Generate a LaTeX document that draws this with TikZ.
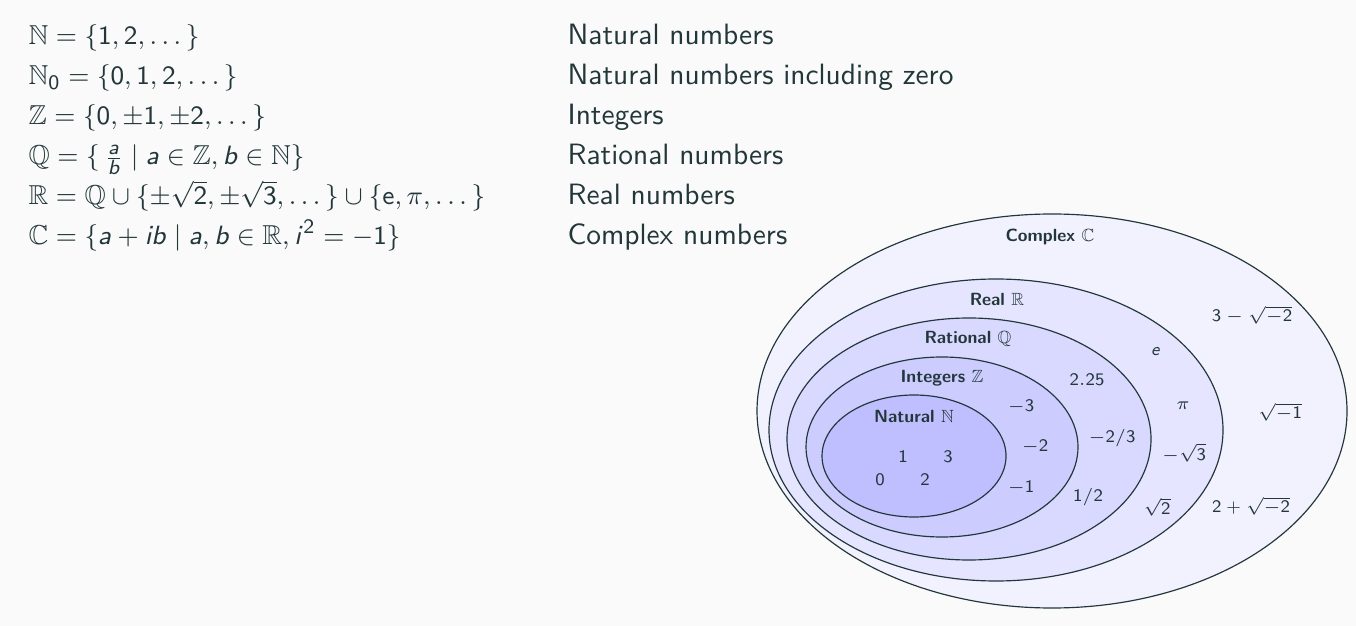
\documentclass[tikz,border=0pt]{standalone}
\usepackage{amsmath}
\usepackage{amssymb}
\usepackage{xcolor}
\definecolor{slidefg}{HTML}{23373B}
\definecolor{slidebg}{HTML}{FAFAFA}
\SetSymbolFont{operators}{normal}{OT1}{cmss}{m}{n}
\DeclareMathAlphabet{\mathsfit}{OT1}{cmss}{m}{sl}

\begin{document}
\begin{tikzpicture}
[x=0.34pt,y=-0.34pt,every node/.style={text=slidefg,font=\sffamily,inner sep=0pt},
setname/.style={font=\sffamily\bfseries\fontsize{6}{7}\selectfont},
elem/.style={font=\sffamily\fontsize{6}{7}\selectfont},
natelem/.style={font=\sffamily\fontsize{5.6}{6.5}\selectfont},
row/.style={anchor=base west},
mathrow/.style={anchor=base west,font=\fontsize{9.3}{11}\selectfont}]
\fill[slidebg] (0,0) rectangle (1356,626);
\useasboundingbox (0,0) rectangle (1356,626);
\node[mathrow] (d1) at (28,45) {$\mathbb{N} = \{1, 2, \dots\}$};
\node[mathrow] (d2) at (28,85) {$\mathbb{N}_0 = \{0, 1, 2, \dots\}$};
\node[mathrow] (d3) at (28,125) {$\mathbb{Z} = \{0, \pm 1, \pm 2, \dots\}$};
\node[mathrow] (d4) at (28,165) {$\mathbb{Q} = \{\,\frac{\mathsfit{a}}{\mathsfit{b}} \mid \mathsfit{a} \in \mathbb{Z}, \mathsfit{b} \in \mathbb{N}\}$};
\node[mathrow] (d5) at (28,205) {$\mathbb{R} = \mathbb{Q} \cup \{\pm\sqrt{2}, \pm\sqrt{3}, \dots\} \cup \{\mathrm{e}, \pi, \dots\}$};
\node[mathrow] (d6) at (28,245) {$\mathbb{C} = \{\mathsfit{a} + \mathsfit{ib} \mid \mathsfit{a}, \mathsfit{b} \in \mathbb{R}, \mathsfit{i}^2 = -1\}$};
\node[row] (t1) at (567,45) {Natural numbers};
\node[row] (t2) at (567,85) {Natural numbers including zero};
\node[row] (t3) at (567,125) {Integers};
\node[row] (t4) at (567,165) {Rational numbers};
\node[row] (t5) at (567,205) {Real numbers};
\node[row] (t6) at (567,245) {Complex numbers};
\foreach \cx/\cy/\rx/\ry/\tint in {1052/411/295/197/5,996/430/227/151/10,969/439/182/121/15,942/447/136/90/20,914/456/92/61/25}
\draw[slidefg,line width=0.4pt,fill=blue!\tint] (\cx,\cy) ellipse [x radius=\rx,y radius=\ry];
\node[setname,anchor=base] (lc) at (1050,242) {Complex $\mathbb{C}$};
\node[setname,anchor=base] (lr) at (997,306) {Real $\mathbb{R}$};
\node[setname,anchor=base] (lq) at (968,344) {Rational $\mathbb{Q}$};
\node[setname,anchor=base] (lz) at (942,383) {Integers $\mathbb{Z}$};
\node[setname,anchor=base] (ln) at (914,423) {Natural $\mathbb{N}$};
\node[natelem] (n1) at (903,457) {$1$};
\node[natelem] (n3) at (948,457) {$3$};
\node[natelem] (n0) at (880,480) {$0$};
\node[natelem] (n2) at (925,480) {$2$};
\node[elem] (z3) at (1021,407) {$-3$};
\node[elem] (z2) at (1035,447) {$-2$};
\node[elem] (z1) at (1021,488) {$-1$};
\node[elem] (q1) at (1087,380) {$2.25$};
\node[elem] (q2) at (1112,438) {$-2/3$};
\node[elem] (q3) at (1088,497) {$1/2$};
\node[elem] (r1) at (1156,352) {$\mathsfit{e}$};
\node[elem] (r2) at (1183,406) {$\pi$};
\node[elem] (r3) at (1184,453) {$-\sqrt{3}$};
\node[elem] (r4) at (1157,507) {$\sqrt{2}$};
\node[elem] (c1) at (1252,315) {$3 - \sqrt{-2}$};
\node[elem] (c2) at (1280,412) {$\sqrt{-1}$};
\node[elem] (c3) at (1251,506) {$2 + \sqrt{-2}$};
\end{tikzpicture}
\end{document}
